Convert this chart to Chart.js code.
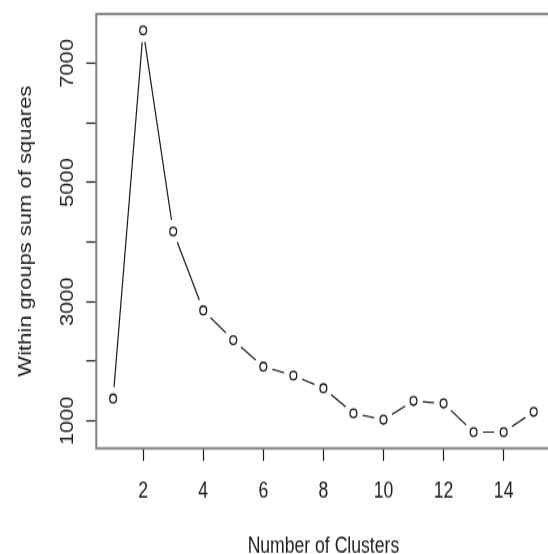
<!DOCTYPE html>
<html>
<head>
<meta charset="utf-8">
<script src="https://cdn.jsdelivr.net/npm/chart.js@4"></script>
<style>
  html, body { margin: 0; padding: 0; background: #fff; overflow: hidden; }
  #wrap { width: 548px; height: 554px; overflow: hidden; }
</style>
</head>
<body>
<!-- the reference picture is stretched vertically (443 -> 554), so the canvas is too -->
<div id="wrap"><canvas id="elbow" width="560" height="443" style="display:block;width:560px;height:554px"></canvas></div>
<script>
// k = number of clusters, wss = within groups sum of squares
const clusters = [1, 2, 3, 4, 5, 6, 7, 8, 9, 10, 11, 12, 13, 14, 15];
const wss = [1374, 7553, 4178, 2854, 2354, 1909, 1760, 1547, 1125, 1018, 1333, 1291, 810, 810, 1149];

const xTicks = [2, 4, 6, 8, 10, 12, 14];
const yTicks = [1000, 2000, 3000, 4000, 5000, 6000, 7000];
const yLabelled = [1000, 3000, 5000, 7000];

const points = clusters.map((k, i) => ({ x: k, y: wss[i] }));
const textFont = { family: "'Liberation Sans', Arial, sans-serif", size: 17.6, lineHeight: 1 };
const ink = '#1c1c1c';

// R style box round the plot area
const boxPlugin = {
  id: 'box',
  afterDraw(chart) {
    const { ctx, chartArea: a } = chart;
    ctx.save();
    ctx.strokeStyle = '#808080';
    ctx.lineWidth = 2;
    ctx.strokeRect(a.left, a.top, a.right - a.left, a.bottom - a.top);
    ctx.restore();
  }
};

new Chart(document.getElementById('elbow'), {
  type: 'scatter',
  data: {
    datasets: [
      { // circles
        data: points, order: 1, showLine: false,
        pointRadius: 3.4, pointBorderWidth: 1.3,
        pointBackgroundColor: '#fff', pointBorderColor: ink
      },
      { // white gap round each circle (type = "b")
        data: points, order: 2, showLine: false,
        pointRadius: 9.5, pointBorderWidth: 0,
        pointBackgroundColor: '#fff', pointBorderColor: '#fff'
      },
      { // connecting line
        data: points, order: 3, showLine: true,
        borderColor: ink, borderWidth: 1.2, pointRadius: 0, tension: 0
      }
    ]
  },
  options: {
    responsive: false,
    animation: false,
    devicePixelRatio: 1,
    layout: { padding: { left: 0, right: 2, top: 11.2, bottom: 0 } },
    plugins: { legend: { display: false }, tooltip: { enabled: false } },
    scales: {
      x: {
        type: 'linear', min: 0.44, max: 15.56,
        afterBuildTicks: s => { s.ticks = xTicks.map(v => ({ value: v })); },
        afterFit: s => { s.height = 84.5; },
        border: { display: false },
        grid: { drawOnChartArea: false, drawTicks: true, tickLength: 10, tickColor: ink, tickWidth: 1.2 },
        ticks: { autoSkip: false, maxRotation: 0, padding: 16, color: ink, font: textFont },
        title: { display: true, text: 'Number of Clusters', color: ink, font: textFont, padding: { top: 0, bottom: -2.5 } }
      },
      y: {
        type: 'linear', min: 537, max: 7828,
        afterBuildTicks: s => { s.ticks = yTicks.map(v => ({ value: v })); },
        afterFit: s => { s.width = 96.3; },
        border: { display: false },
        grid: { drawOnChartArea: false, drawTicks: true, tickLength: 10, tickColor: ink, tickWidth: 1.2 },
        ticks: {
          autoSkip: false, minRotation: 90, maxRotation: 90, crossAlign: 'center', padding: -1,
          color: ink, font: textFont,
          callback: v => yLabelled.includes(v) ? String(v) : ''
        },
        title: { display: true, text: 'Within groups sum of squares', color: ink, font: textFont, padding: { top: 17, bottom: 0 } }
      }
    }
  },
  plugins: [boxPlugin]
});
</script>
</body>
</html>
